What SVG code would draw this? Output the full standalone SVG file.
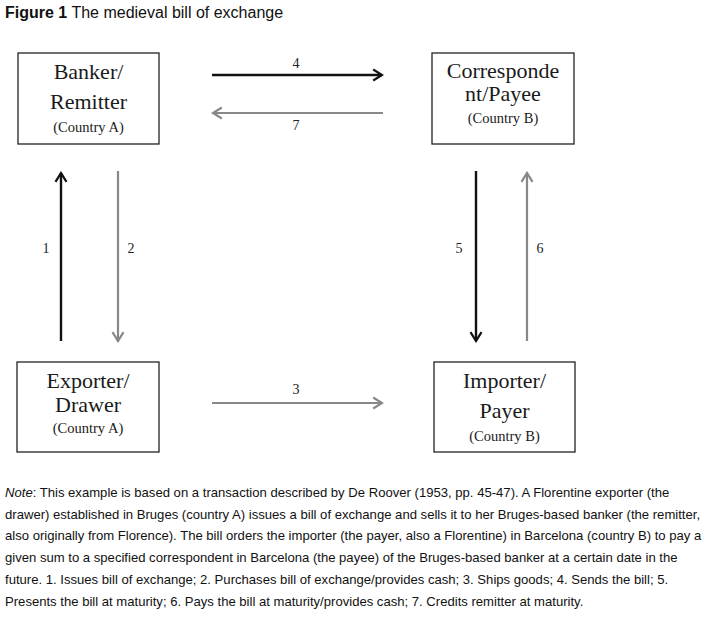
<svg xmlns="http://www.w3.org/2000/svg" width="714" height="623" viewBox="0 0 714 623">
<style>
.box{fill:#fff;stroke:#222;stroke-width:1.3}
.t{font-family:"Liberation Serif","Times New Roman",serif;fill:#1a1a1a;text-anchor:middle}
.big{font-size:22px}
.sm{font-size:14.5px}
.num{font-family:"Liberation Serif",serif;font-size:14px;fill:#222;text-anchor:middle}
.blk{stroke:#111;stroke-width:2.4;fill:none}
.gry{stroke:#888;stroke-width:2.2;fill:none}
.note{font-family:"Liberation Sans",Arial,sans-serif;font-size:13.1px;fill:#111}
</style>
<defs>
<marker id="hb" viewBox="0 0 12 12" refX="10" refY="6" markerWidth="5.5" markerHeight="5.5" markerUnits="strokeWidth" orient="auto">
<path d="M2,1 L10,6 L2,11" fill="none" stroke="#111" stroke-width="2"/>
</marker>
<marker id="hg" viewBox="0 0 12 12" refX="10" refY="6" markerWidth="6" markerHeight="6" markerUnits="strokeWidth" orient="auto">
<path d="M2,1 L10,6 L2,11" fill="none" stroke="#888" stroke-width="2"/>
</marker>
</defs>
<rect width="714" height="623" fill="#fff"/>
<text x="5" y="18" font-family="Liberation Sans,Arial,sans-serif" font-size="16" fill="#111"><tspan font-weight="bold">Figure 1</tspan> The medieval bill of exchange</text>

<g id="banker">
<rect class="box" x="18" y="53" width="141" height="91"/>
<text class="t big" x="88.5" y="79">Banker/</text>
<text class="t big" x="88.5" y="109">Remitter</text>
<text class="t sm" x="88.5" y="132">(Country A)</text>
</g>
<g id="correspondent">
<rect class="box" x="432" y="53" width="142" height="91"/>
<text class="t big" x="503" y="78">Corresponde</text>
<text class="t big" x="503" y="101">nt/Payee</text>
<text class="t sm" x="503" y="123">(Country B)</text>
</g>
<g id="exporter">
<rect class="box" x="17" y="362" width="142" height="90"/>
<text class="t big" x="88" y="388">Exporter/</text>
<text class="t big" x="88" y="412">Drawer</text>
<text class="t sm" x="88" y="433">(Country A)</text>
</g>
<g id="importer">
<rect class="box" x="434" y="362" width="141" height="90"/>
<text class="t big" x="504.5" y="388">Importer/</text>
<text class="t big" x="504.5" y="418">Payer</text>
<text class="t sm" x="504.5" y="441">(Country B)</text>
</g>

<g id="connectors">
<line class="blk" x1="212" y1="75" x2="382" y2="75" marker-end="url(#hb)"/>
<text class="num" x="296" y="68">4</text>
<line class="gry" x1="383" y1="113" x2="213" y2="113" marker-end="url(#hg)"/>
<text class="num" x="296" y="130">7</text>
<line class="blk" x1="61" y1="341" x2="61" y2="173" marker-end="url(#hb)"/>
<text class="num" x="46" y="253">1</text>
<line class="gry" x1="118" y1="171" x2="118" y2="341" marker-end="url(#hg)"/>
<text class="num" x="131" y="253">2</text>
<line class="blk" x1="476" y1="171" x2="476" y2="341" marker-end="url(#hb)"/>
<text class="num" x="459" y="253">5</text>
<line class="gry" x1="527" y1="341" x2="527" y2="173" marker-end="url(#hg)"/>
<text class="num" x="540" y="253">6</text>
<line class="gry" x1="212" y1="403" x2="382" y2="403" marker-end="url(#hg)"/>
<text class="num" x="296" y="394">3</text>
</g>

<g class="note">
<text x="5" y="497"><tspan font-style="italic">Note</tspan>: This example is based on a transaction described by De Roover (1953, pp. 45-47). A Florentine exporter (the</text>
<text x="5" y="519">drawer) established in Bruges (country A) issues a bill of exchange and sells it to her Bruges-based banker (the remitter,</text>
<text x="5" y="540">also originally from Florence). The bill orders the importer (the payer, also a Florentine) in Barcelona (country B) to pay a</text>
<text x="5" y="562">given sum to a specified correspondent in Barcelona (the payee) of the Bruges-based banker at a certain date in the</text>
<text x="5" y="584">future. 1. Issues bill of exchange; 2. Purchases bill of exchange/provides cash; 3. Ships goods; 4. Sends the bill; 5.</text>
<text x="5" y="606">Presents the bill at maturity; 6. Pays the bill at maturity/provides cash; 7. Credits remitter at maturity.</text>
</g>
</svg>
